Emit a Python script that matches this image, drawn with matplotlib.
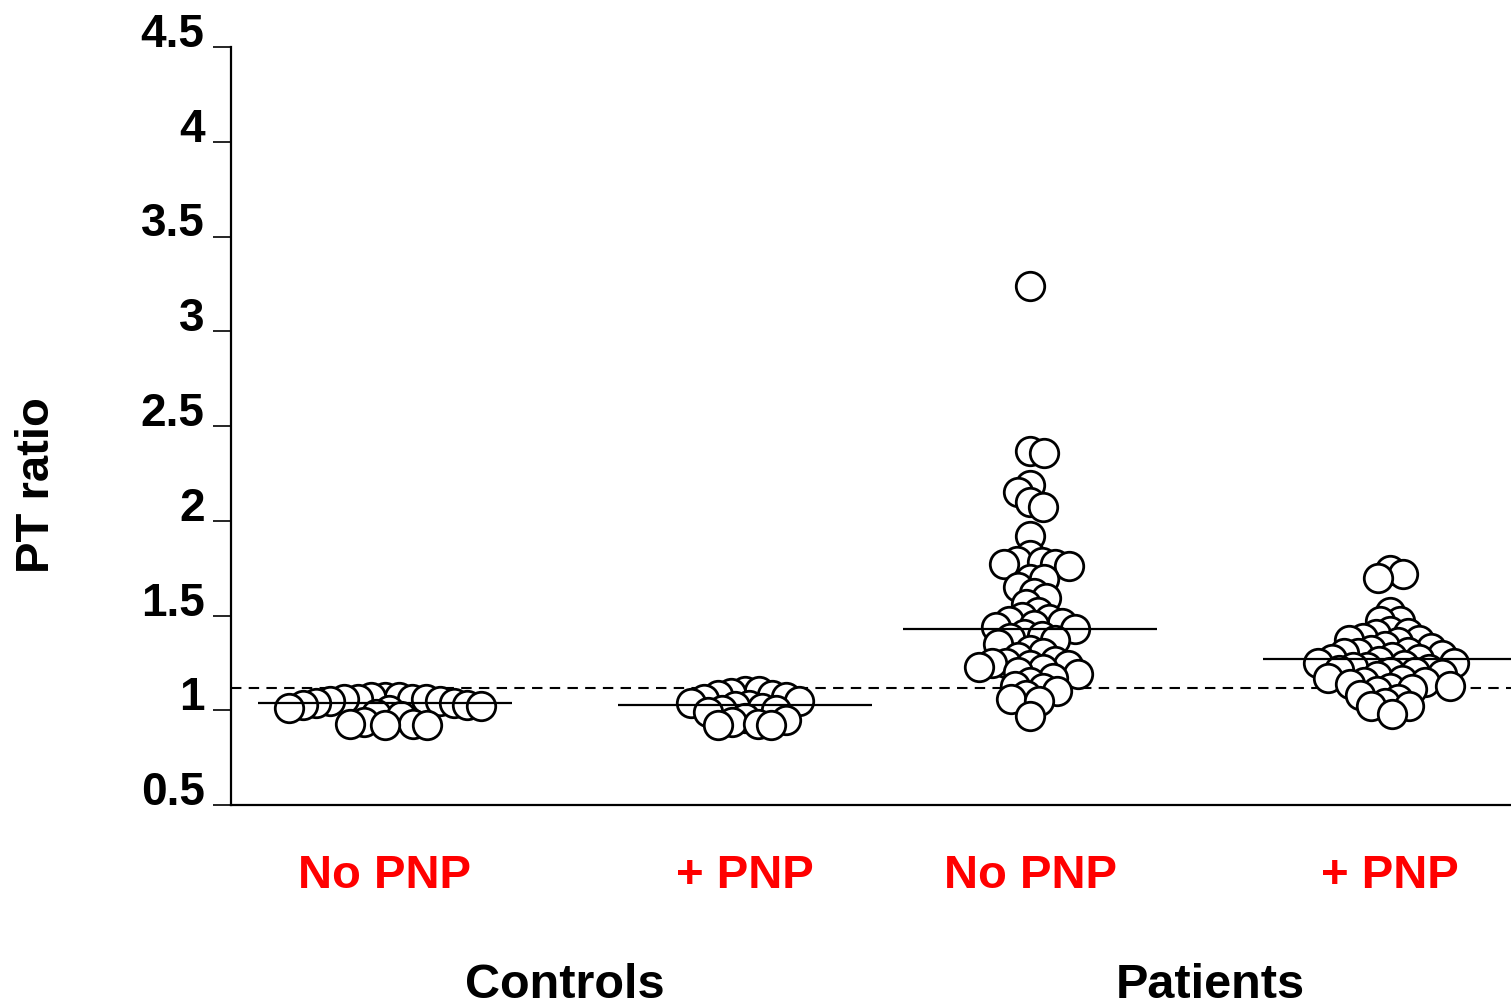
import numpy as np
import matplotlib
matplotlib.use("Agg")
import matplotlib.pyplot as plt
from matplotlib.transforms import blended_transform_factory

plt.rcParams["font.family"] = ["Liberation Sans", "DejaVu Sans"]

# ---- data -------------------------------------------------------------
group_names = ["Controls", "Patients"]
condition_labels = ["No PNP", "+ PNP", "No PNP", "+ PNP"]

controls_no_pnp = [1.07, 1.07, 1.07, 1.06, 1.06, 1.06, 1.06, 1.05, 1.05,
                   1.04, 1.04, 1.03, 1.03, 1.02, 1.01, 1.00, 0.98, 0.97,
                   0.94, 0.93, 0.93, 0.92, 0.92]
controls_pnp = [1.10, 1.10, 1.09, 1.08, 1.08, 1.07, 1.06, 1.05, 1.04, 1.03,
                1.02, 1.01, 1.00, 1.00, 0.99, 0.96, 0.95, 0.94, 0.93, 0.92, 0.92]
patients_no_pnp = [3.24, 2.37, 2.36, 2.19, 2.15, 2.10, 2.07, 1.92, 1.82, 1.79,
                   1.78, 1.77, 1.77, 1.76, 1.69, 1.69, 1.65, 1.62, 1.59, 1.56,
                   1.52, 1.49, 1.48, 1.47, 1.46, 1.45, 1.44, 1.43, 1.40, 1.39,
                   1.38, 1.37, 1.35, 1.32, 1.30, 1.28, 1.26, 1.25, 1.25, 1.24,
                   1.24, 1.23, 1.22, 1.20, 1.19, 1.17, 1.15, 1.13, 1.12, 1.10,
                   1.08, 1.06, 1.05, 0.97]
patients_pnp = [1.74, 1.72, 1.70, 1.52, 1.47, 1.47, 1.42, 1.41, 1.40, 1.38,
                1.37, 1.37, 1.36, 1.34, 1.33, 1.32, 1.31, 1.30, 1.30, 1.29,
                1.28, 1.27, 1.27, 1.26, 1.25, 1.25, 1.24, 1.23, 1.23, 1.22,
                1.21, 1.20, 1.20, 1.19, 1.18, 1.17, 1.16, 1.15, 1.15, 1.14,
                1.13, 1.12, 1.11, 1.10, 1.08, 1.06, 1.04, 1.02, 1.02, 0.98]

# central line per column and the reference (upper normal) level
center_lines = [1.037, 1.026, 1.427, 1.27]
reference_level = 1.12

y_ticks = [0.5, 1, 1.5, 2, 2.5, 3, 3.5, 4, 4.5]
y_tick_labels = ["0.5", "1", "1.5", "2", "2.5", "3", "3.5", "4", "4.5"]

# ---- layout -----------------------------------------------------------
W, H, DPI = 1511, 1006, 100
fig = plt.figure(figsize=(W / DPI, H / DPI), dpi=DPI)
ax_left, ax_right, ax_top, ax_bottom = 231, 1511, 47, 805
ax = fig.add_axes([ax_left / W, 1 - ax_bottom / H,
                   (ax_right - ax_left) / W, (ax_bottom - ax_top) / H])
ax.set_xlim(0, ax_right - ax_left)
ax.set_ylim(0.5, 4.5)

col_x = [154, 514, 799, 1159]          # column centres (x units = pixels)
half_len = 127                          # half length of the centre lines
px_per_unit = (ax_bottom - ax_top) / 4.0


def swarm(values, ppu, dmin):
    """Beeswarm offsets: each point goes as close to the centre as possible
    without coming closer than dmin (pixels) to an already placed point."""
    ys = np.asarray(values, float) * ppu
    xs = np.zeros_like(ys)
    placed = []
    side = 1
    for i in np.argsort(-ys):
        cands = [0.0]
        for j in placed:
            dy = ys[i] - ys[j]
            if abs(dy) < dmin:
                w = np.sqrt(dmin * dmin - dy * dy)
                cands += [xs[j] - w, xs[j] + w]
        cands.sort(key=lambda c: (round(abs(c), 3), -side * c))
        for c in cands:
            if all((c - xs[j]) ** 2 + (ys[i] - ys[j]) ** 2 >= dmin * dmin - 1e-6
                   for j in placed):
                xs[i] = c
                break
        if xs[i] != 0:
            side = -side
        placed.append(i)
    return xs


columns = [controls_no_pnp, controls_pnp, patients_no_pnp, patients_pnp]
for cx, vals in zip(col_x, columns):
    vals = np.asarray(vals, float)
    offs = swarm(vals, px_per_unit, 13.8)
    order = np.argsort(-vals)           # lower points drawn on top
    ax.scatter(cx + offs[order], vals[order], s=20.5 ** 2, marker="o",
               facecolor="white", edgecolor="black", linewidth=2.0,
               zorder=3, clip_on=False)

ax.hlines(center_lines, np.array(col_x) - half_len, np.array(col_x) + half_len,
          color="black", linewidth=1.6, zorder=4, clip_on=False)
ax.axhline(reference_level, color="black", linewidth=1.5,
           linestyle=(0, (5, 3.5)), zorder=2)

# ---- axes styling -----------------------------------------------------
for s in ("top", "right"):
    ax.spines[s].set_visible(False)
for s in ("left", "bottom"):
    ax.spines[s].set_linewidth(1.6)
ax.set_xticks([])
ax.set_yticks(y_ticks)
ax.set_yticklabels(y_tick_labels, fontsize=33, fontweight="bold")
for lab in ax.get_yticklabels():
    lab.set_verticalalignment("baseline")
ax.tick_params(axis="y", direction="out", length=13, width=1.2, pad=6)

fig.text(37 / W, 1 - 485 / H, "PT ratio", rotation=90, fontsize=34,
         fontweight="bold", ha="center", va="center")

tr = blended_transform_factory(ax.transData, fig.transFigure)
for cx, lab in zip(col_x, condition_labels):
    ax.text(cx, 1 - 876 / H, lab, transform=tr, color="#ff0000", fontsize=34,
            fontweight="bold", ha="center", va="center")
for k, name in enumerate(group_names):
    gx = (col_x[2 * k] + col_x[2 * k + 1]) / 2
    ax.text(gx, 1 - 985 / H, name, transform=tr, color="black", fontsize=35,
            fontweight="bold", ha="center", va="center")

fig.savefig("out.png", dpi=DPI)
